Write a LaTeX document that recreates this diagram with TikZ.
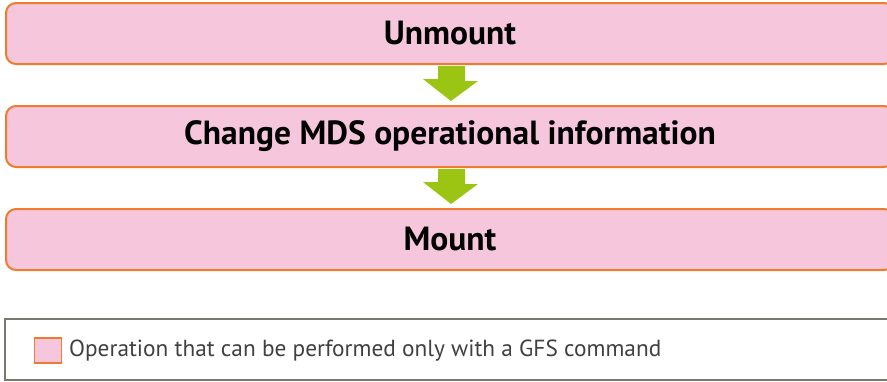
\documentclass[tikz,border=0pt]{standalone}
\usepackage{fontspec}
\setmainfont{PT Sans}
\usetikzlibrary{calc}
\definecolor{boxfill}{HTML}{F6C6DC}
\definecolor{boxline}{HTML}{EF7B2D}
\definecolor{arrowgreen}{HTML}{9CC412}
\definecolor{legline}{HTML}{7A7A6C}
\definecolor{legtext}{HTML}{404040}
\tikzset{
  stepbox/.style={draw=boxline, fill=boxfill, line width=2pt, rounded corners=10pt,
    minimum width=888pt, minimum height=61pt, inner sep=0pt,
    font=\fontsize{33.5}{36}\selectfont\bfseries, text=black},
  flowarrow/.style={fill=arrowgreen, draw=none},
}
\begin{document}
\begin{tikzpicture}[x=1pt,y=-1pt]
\useasboundingbox (0,0) rectangle (887,381);
\begin{scope}
\clip (0,0) rectangle (887,381);
\node[stepbox] (b1) at (450,33.5) {Unmount};
\node[stepbox] (b2) at (450,136.5) {Change MDS operational information};
\node[stepbox] (b3) at (450,239.5) {Mount};
\foreach \a/\b in {b1/b2,b2/b3}{
  \fill[flowarrow] ($(\a.south)+(-12,1)$) -- ++(27,0) -- ++(0,15) -- ++(13,0)
     -- ($(\b.north)+(1,-4)$) -- ++(-28,-22) -- ++(15,0) -- cycle;
}
\node[draw=legline, line width=2pt, minimum width=895pt, minimum height=61pt, inner sep=0pt] (leg) at (452.5,349.5) {};
\node[draw=boxline, fill=boxfill, line width=1.5pt, minimum width=27pt, minimum height=25pt, inner sep=0pt] (key) at (48,350.5) {};
\node[anchor=west, inner sep=0pt, text=legtext, font=\fontsize{23.3}{26}\selectfont] (keytext) at (69,351) {Operation that can be performed only with a GFS command};
\end{scope}
\end{tikzpicture}
\end{document}
